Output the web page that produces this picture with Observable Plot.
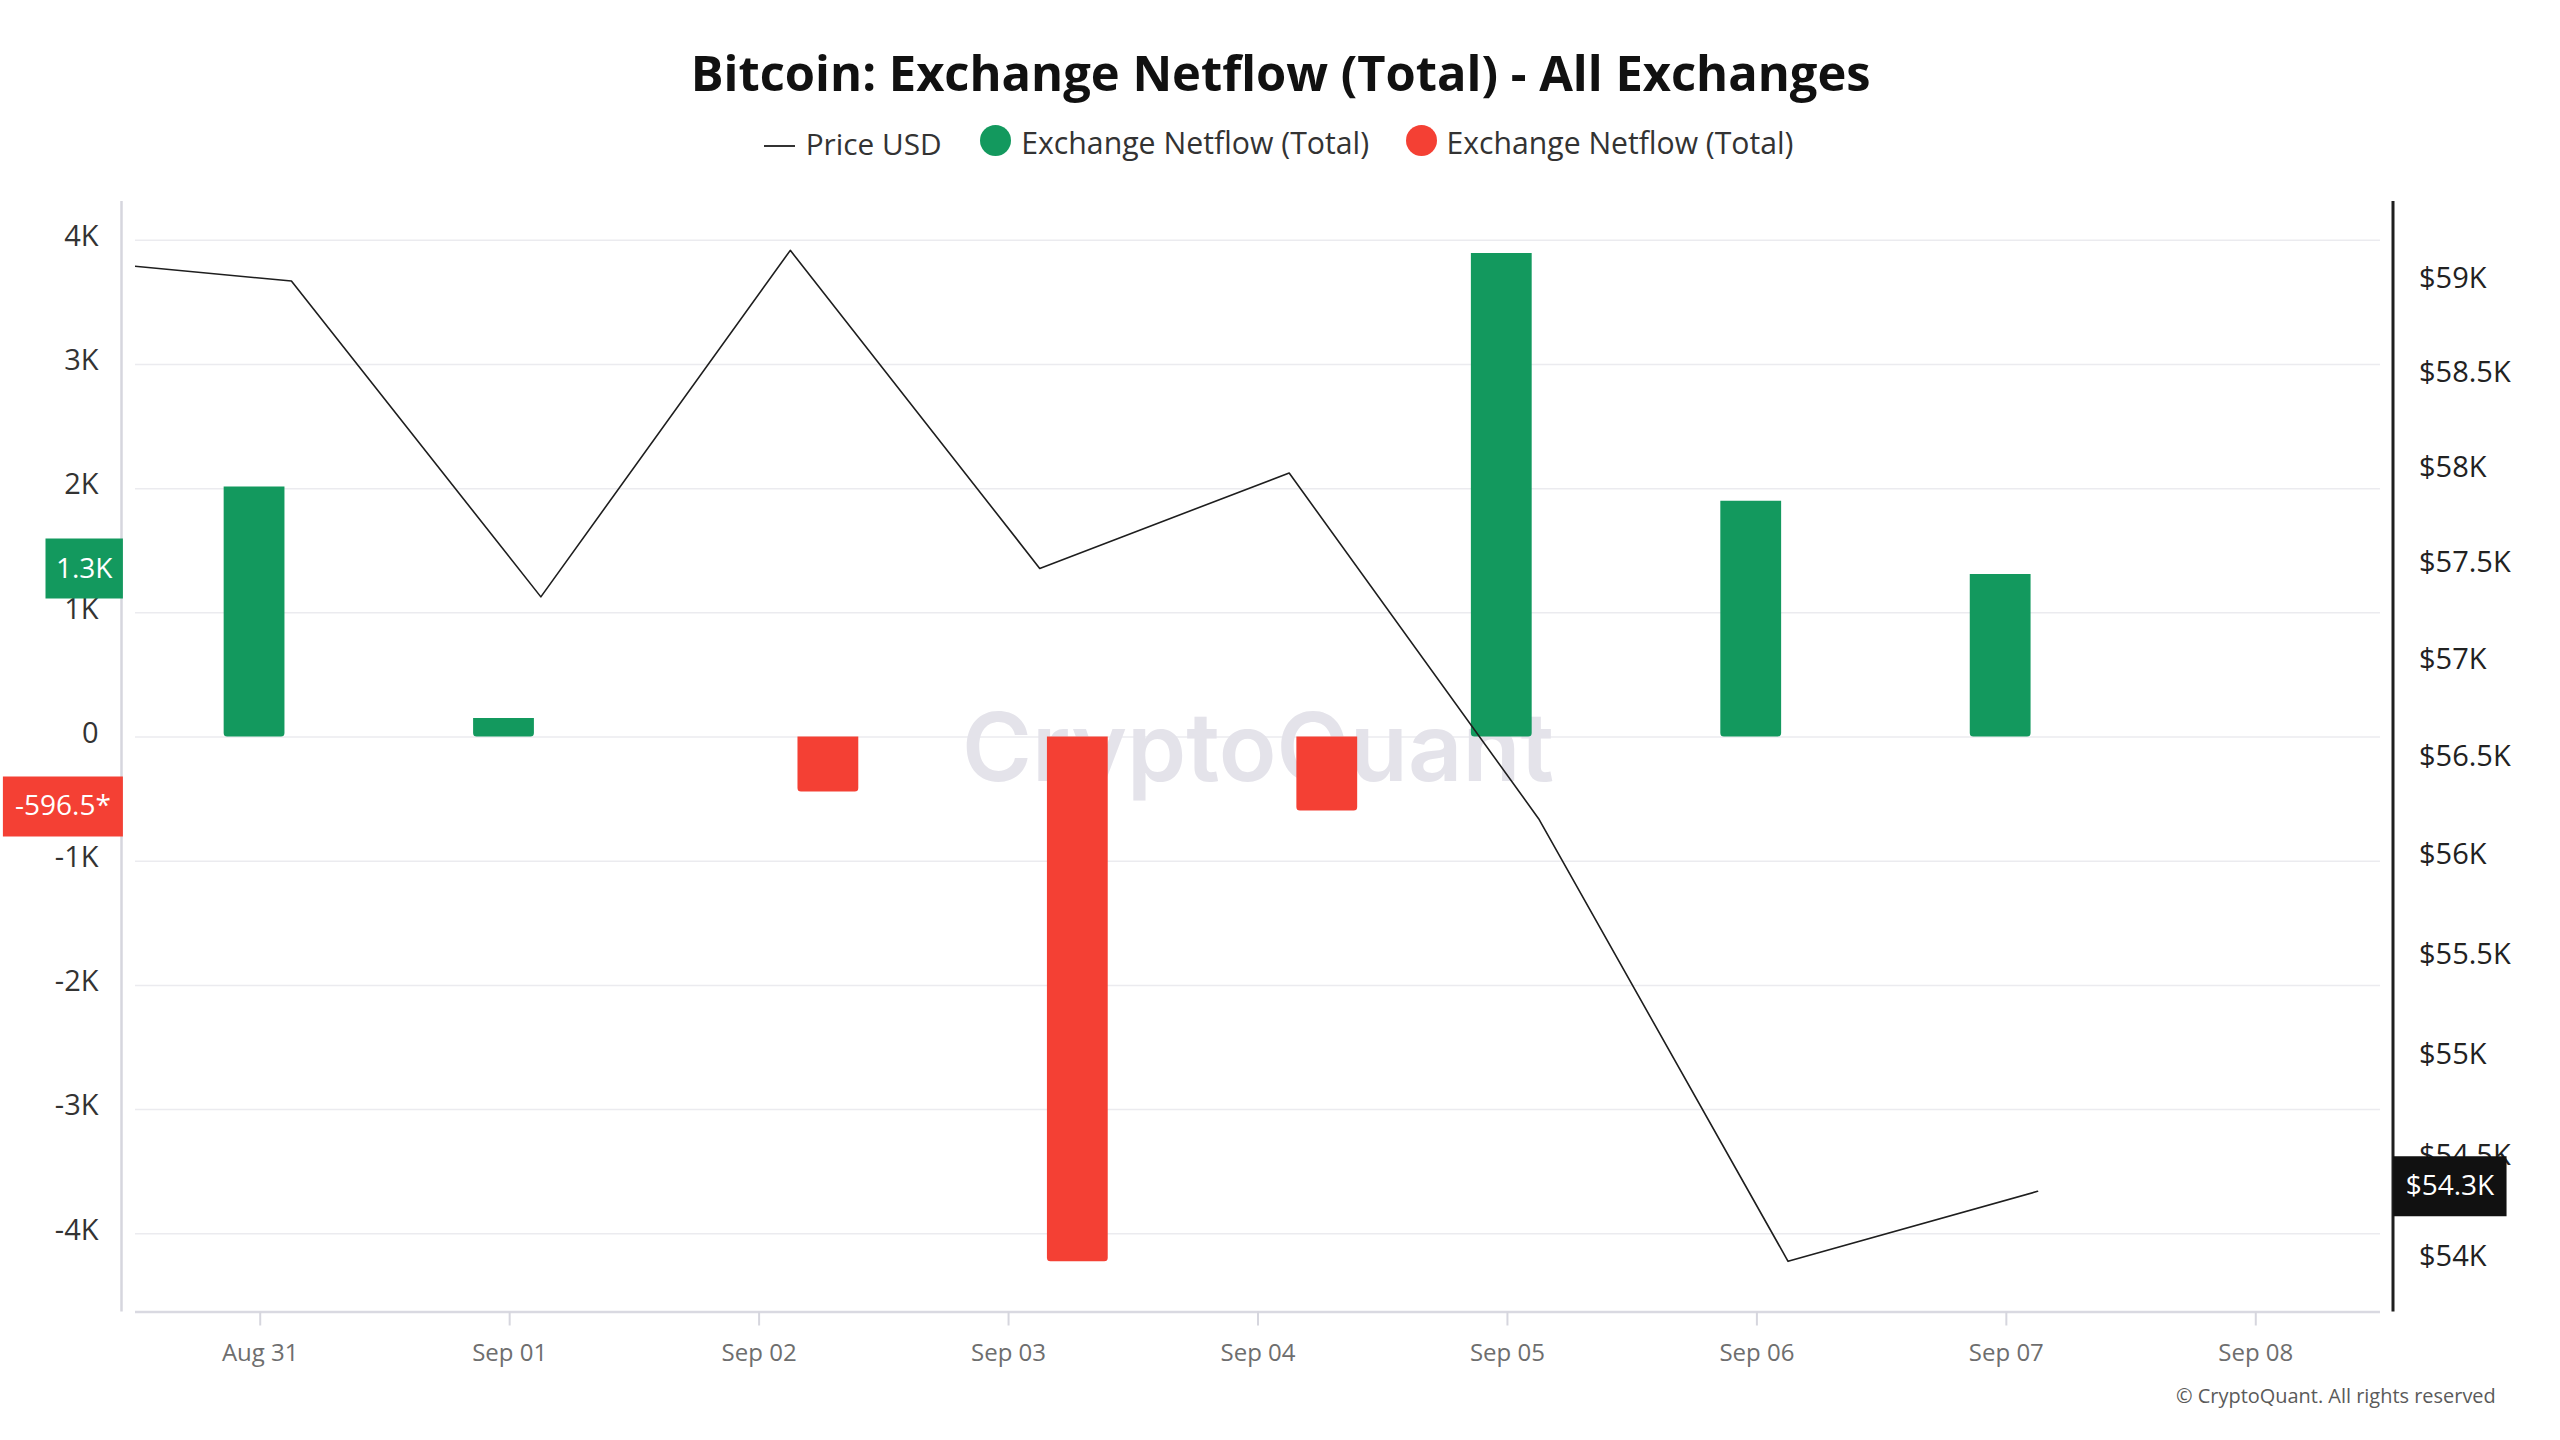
<!DOCTYPE html>
<html>
<head>
<meta charset="utf-8">
<script src="https://cdn.jsdelivr.net/npm/d3@7"></script>
<script src="https://cdn.jsdelivr.net/npm/@observablehq/plot@0.6"></script>
<style>
  html, body { margin: 0; padding: 0; background: #fff; }
  #wrap { position: relative; width: 2560px; height: 1440px; overflow: hidden; font-family: "Open Sans", sans-serif; }
  .abs { position: absolute; white-space: nowrap; line-height: 1; }
  #c1, #c2 { position: absolute; left: 0; top: 0; width: 2560px; height: 1440px; }
</style>
</head>
<body>
<div id="wrap">
  <div id="c1"></div>
  <div id="c2"></div>
  <div id="title" class="abs">Bitcoin: Exchange Netflow (Total) - All Exchanges</div>
  <div id="lgDash" class="abs"></div>
  <div id="lgPrice" class="abs">Price USD</div>
  <div id="lgDotG" class="abs"></div>
  <div id="lgGreen" class="abs">Exchange Netflow (Total)</div>
  <div id="lgDotR" class="abs"></div>
  <div id="lgRed" class="abs">Exchange Netflow (Total)</div>
  <div id="copy" class="abs">© CryptoQuant. All rights reserved</div>
</div>
<script>
// ---------------- data ----------------
const dates = ["2024-08-31","2024-09-01","2024-09-02","2024-09-03","2024-09-04","2024-09-05","2024-09-06","2024-09-07"];
const netflow = [2014, 148, -443, -4226, -596.5, 3894, 1899, 1308];
const priceDates = ["2024-08-30","2024-08-31","2024-09-01","2024-09-02","2024-09-03","2024-09-04","2024-09-05","2024-09-06","2024-09-07"];
const priceUSD = [59130, 59004, 57342, 59168, 57490, 57988, 56203, 53997, 54340];
const netflowTicks = [-4000, -3000, -2000, -1000, 0, 1000, 2000, 3000, 4000];
const priceTicks = [54000, 54500, 55000, 55500, 56000, 56500, 57000, 57500, 58000, 58500, 59000];
const dateTicks = ["2024-08-31","2024-09-01","2024-09-02","2024-09-03","2024-09-04","2024-09-05","2024-09-06","2024-09-07","2024-09-08"];
const titleText = "Bitcoin: Exchange Netflow (Total) - All Exchanges";

// ---------------- layout ----------------
const GREEN = "#13995E", RED = "#F44034";
const FONT = '"Open Sans", sans-serif';
const HOUR = 36e5;
const W = 2560, H = 1440;
const M = {left: 135, right: 180, top: 201, bottom: 128.5};
const xDomain = [new Date("2024-08-30T12:00Z"), new Date("2024-09-08T12:00Z")];
const shift = (d, h) => new Date(+d + h * HOUR);

const rows = dates.map((d, i) => ({date: new Date(d), value: netflow[i]}));
const greenRows = rows.filter(r => r.value >= 0);
const redRows = rows.filter(r => r.value < 0);
const lastGreen = greenRows[greenRows.length - 1];
const lastRed = redRows[redRows.length - 1];
const priceRows = priceDates.map((d, i) => ({date: new Date(d), price: priceUSD[i]}));
const lastPrice = priceRows[priceRows.length - 1];

const canvas = document.createElement("canvas").getContext("2d");
function fitSize(text, weight, family, target) {
  canvas.font = `${weight} 100px ${family}`;
  return 100 * target / canvas.measureText(text).width;
}
const badge = (w, h) => ({draw(ctx) { ctx.rect(-w / 2, -h / 2, w, h); }});

const wmSize = fitSize("CryptoQuant", 600, "Inter", 592);

const common = {
  width: W, height: H,
  marginLeft: M.left, marginRight: M.right, marginTop: M.top, marginBottom: M.bottom,
  style: {fontFamily: FONT, background: "transparent", overflow: "visible"}
};

const chart1 = Plot.plot({
  ...common,
  x: {type: "utc", domain: xDomain},
  y: {domain: [-4630, 4312]},
  marks: [
    Plot.gridY(netflowTicks, {stroke: "#ebebef", strokeOpacity: 1, strokeWidth: 1.5}),
    Plot.text(["CryptoQuant"], {text: d => d, frameAnchor: "middle", dy: -6.5, fontSize: wmSize, fontWeight: 600, fontFamily: "Inter", fill: "#e4e3ea"}),
    Plot.rectY(greenRows, {x1: d => shift(d.date, -3.47), x2: d => shift(d.date, 2.38), y1: () => 0, y2: "value", fill: GREEN, ry1: 3.5}),
    Plot.rectY(redRows, {x1: d => shift(d.date, 3.74), x2: d => shift(d.date, 9.59), y1: () => 0, y2: "value", fill: RED, ry2: 3.5}),
    Plot.ruleY([-4630], {stroke: "#d9d9e1", strokeWidth: 2.5}),
    Plot.ruleX([xDomain[0]], {dx: -14, stroke: "#d6d6de", strokeWidth: 2.5}),
    Plot.axisY(netflowTicks, {anchor: "left", label: null, tickSize: 0, tickPadding: 37, dy: -3.5, fontSize: 29, fill: "#333",
      tickFormat: d => d === 0 ? "0" : `${d / 1000}K`}),
    Plot.axisX(dateTicks.map(d => new Date(d)), {anchor: "bottom", label: null, tickSize: 14, tickPadding: 18, fontSize: 24,
      stroke: "#d6d6de", strokeWidth: 2, fill: "#6e6e6e", tickFormat: d3.utcFormat("%b %d")}),
    Plot.dot([lastGreen], {x: () => xDomain[0], y: "value", dx: -51.3, dy: -6, symbol: badge(77.4, 60), r: 10, fill: GREEN, stroke: "none"}),
    Plot.text([lastGreen], {x: () => xDomain[0], y: "value", dx: -51.3, dy: -6, text: d => `${(d.value / 1000).toFixed(1)}K`, fill: "white", fontSize: 28}),
    Plot.dot([lastRed], {x: () => xDomain[0], y: "value", dx: -72.6, dy: -4.6, symbol: badge(120, 60), r: 10, fill: RED, stroke: "none"}),
    Plot.text([lastRed], {x: () => xDomain[0], y: "value", dx: -72.6, dy: -4.6, text: d => `${d.value}*`, fill: "white", fontSize: 28})
  ]
});
document.getElementById("c1").append(chart1);

const chart2 = Plot.plot({
  ...common,
  x: {type: "utc", domain: xDomain, axis: null},
  y: {type: "log", domain: [53750, 59430], axis: null},
  marks: [
    Plot.line(priceRows, {x: d => shift(d.date, 3.0), y: "price", stroke: "#1e1e1e", strokeWidth: 1.6, clip: true}),
    Plot.ruleX([xDomain[1]], {dx: 12.5, stroke: "#1f1f1f", strokeWidth: 3}),
    Plot.axisY(priceTicks, {anchor: "right", label: null, tickSize: 0, tickPadding: 38.5, dy: -3.5, fontSize: 29, fill: "#222",
      tickFormat: d => `$${d / 1000}K`}),
    Plot.dot([lastPrice], {x: () => xDomain[1], y: "price", dx: 69.4, dy: -5, symbol: badge(113.3, 60), r: 10, fill: "#111", stroke: "none"}),
    Plot.text([lastPrice], {x: () => xDomain[1], y: "price", dx: 69.4, dy: -5, text: d => `$${(d.price / 1000).toFixed(1)}K`, fill: "white", fontSize: 28})
  ]
});
document.getElementById("c2").append(chart2);

// ---------------- title, legend, footer ----------------
function place(id, text, weight, target, left, capCenter, color, anchor) {
  const el = document.getElementById(id);
  const fs = fitSize(text, weight, FONT, target);
  el.style.fontSize = fs + "px";
  el.style.fontWeight = weight;
  el.style.color = color;
  el.style.top = (capCenter - 0.531 * fs) + "px";
  el.style.left = (anchor === "middle" ? left - target / 2 : left) + "px";
}
place("title", titleText, 700, 1180, 1280.8, 73.5, "#111", "middle");
place("lgPrice", "Price USD", 400, 136, 805.7, 144.5, "#333");
place("lgGreen", "Exchange Netflow (Total)", 400, 348, 1021.2, 144.5, "#333");
place("lgRed", "Exchange Netflow (Total)", 400, 347, 1446.6, 144.5, "#333");
place("copy", "© CryptoQuant. All rights reserved", 400, 320, 2176, 1396.5, "#5a5a5a");

const dash = document.getElementById("lgDash");
Object.assign(dash.style, {left: "764px", top: "145px", width: "31px", height: "2px", background: "#333"});
for (const [id, c, l] of [["lgDotG", GREEN, 980.4], ["lgDotR", RED, 1405.7]]) {
  Object.assign(document.getElementById(id).style, {left: l + "px", top: "125px", width: "31px", height: "31px", borderRadius: "50%", background: c});
}
</script>
</body>
</html>
